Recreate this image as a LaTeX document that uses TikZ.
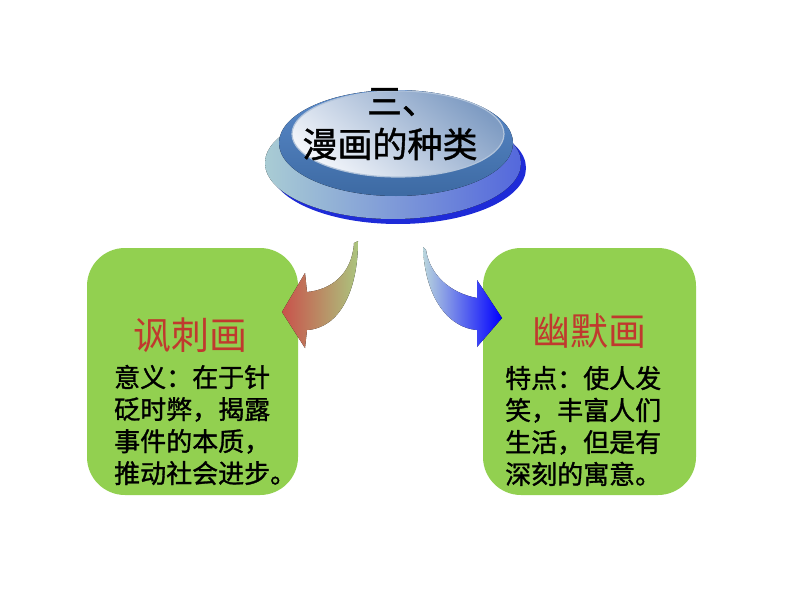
\documentclass[tikz,border=0pt]{standalone}
\usepackage{fontspec}
\newfontfamily\cjk{Noto Sans CJK SC}
\newfontfamily\cjkbold[FakeBold=1.2]{Noto Sans CJK SC}
\usetikzlibrary{positioning}

\definecolor{boxgreen}{HTML}{92D050}
\definecolor{titlered}{HTML}{C0392E}
\definecolor{tipred}{HTML}{C9524B}
\definecolor{tailgreen}{HTML}{ABC57E}
\definecolor{rimblue}{HTML}{1E2BD8}
\definecolor{baseteal}{HTML}{A9CCD4}
\definecolor{baseblue}{HTML}{5468DC}
\definecolor{steeltop}{HTML}{5A8ACA}
\definecolor{steelbot}{HTML}{3D6AA3}
\definecolor{facelight}{HTML}{F2F5FA}
\definecolor{facedark}{HTML}{7F9CC3}

\begin{document}
\begin{tikzpicture}[x=1pt,y=-1pt,
    card/.style={fill=boxgreen, rounded corners=38pt},
    kind/.style={font=\cjk\fontsize{38}{38}\selectfont, text=titlered, inner sep=0pt},
    body/.style={font=\cjkbold\fontsize{26}{32}\selectfont, align=left, inner sep=0pt, anchor=west},
    head/.style={font=\cjkbold\fontsize{35}{35}\selectfont, inner sep=0pt}]

   \useasboundingbox (0,0) rectangle (794,596);

   % the button
   \fill[rimblue] (398,168) ellipse [x radius=128, y radius=56];
   \fill[left color=baseteal, right color=baseblue] (393,163) ellipse [x radius=128, y radius=56];
   \fill[top color=steeltop, bottom color=steelbot] (396,143) ellipse [x radius=117, y radius=53];
   \fill[top color=facedark, bottom color=facelight, shading angle=-40] (398,134) ellipse [x radius=106, y radius=43];
   \draw[facedark!60!white, line width=1.2pt] (398,134) ellipse [x radius=106, y radius=43];

   \node[head] (num)  at (402,102) {三、};
   \node[head] (sort) at (390,144) {漫画的种类};

   % the two cards
   \fill[card] (87,248) rectangle (298,495);
   \fill[card] (483,248) rectangle (696,495);

   \node[kind] (satire) at (190,335) {讽刺画};
   \node[kind] (humour) at (589,331) {幽默画};

   \node[body] (satiretext) at (114,425) {意义：在于针\\砭时弊，揭露\\事件的本质，\\推动社会进步。};
   \node[body] (humourtext) at (505,426) {特点：使人发\\笑，丰富人们\\生活，但是有\\深刻的寓意。};

   % curved arrows
   \fill[left color=tipred, right color=tailgreen]
     (358,241) .. controls (358,290) and (340,328) .. (307,330)
     -- (305,348) -- (282,312) -- (305,273) -- (307,292)
     .. controls (330,290) and (352,275) .. (354,243) -- cycle;
   \fill[left color=baseteal!80!white, right color=blue]
     (423,247) .. controls (425,300) and (450,328) .. (477,330)
     -- (477,347) -- (502,318) -- (477,280) -- (477,298)
     .. controls (450,293) and (430,275) .. (426,250) -- cycle;
\end{tikzpicture}
\end{document}
